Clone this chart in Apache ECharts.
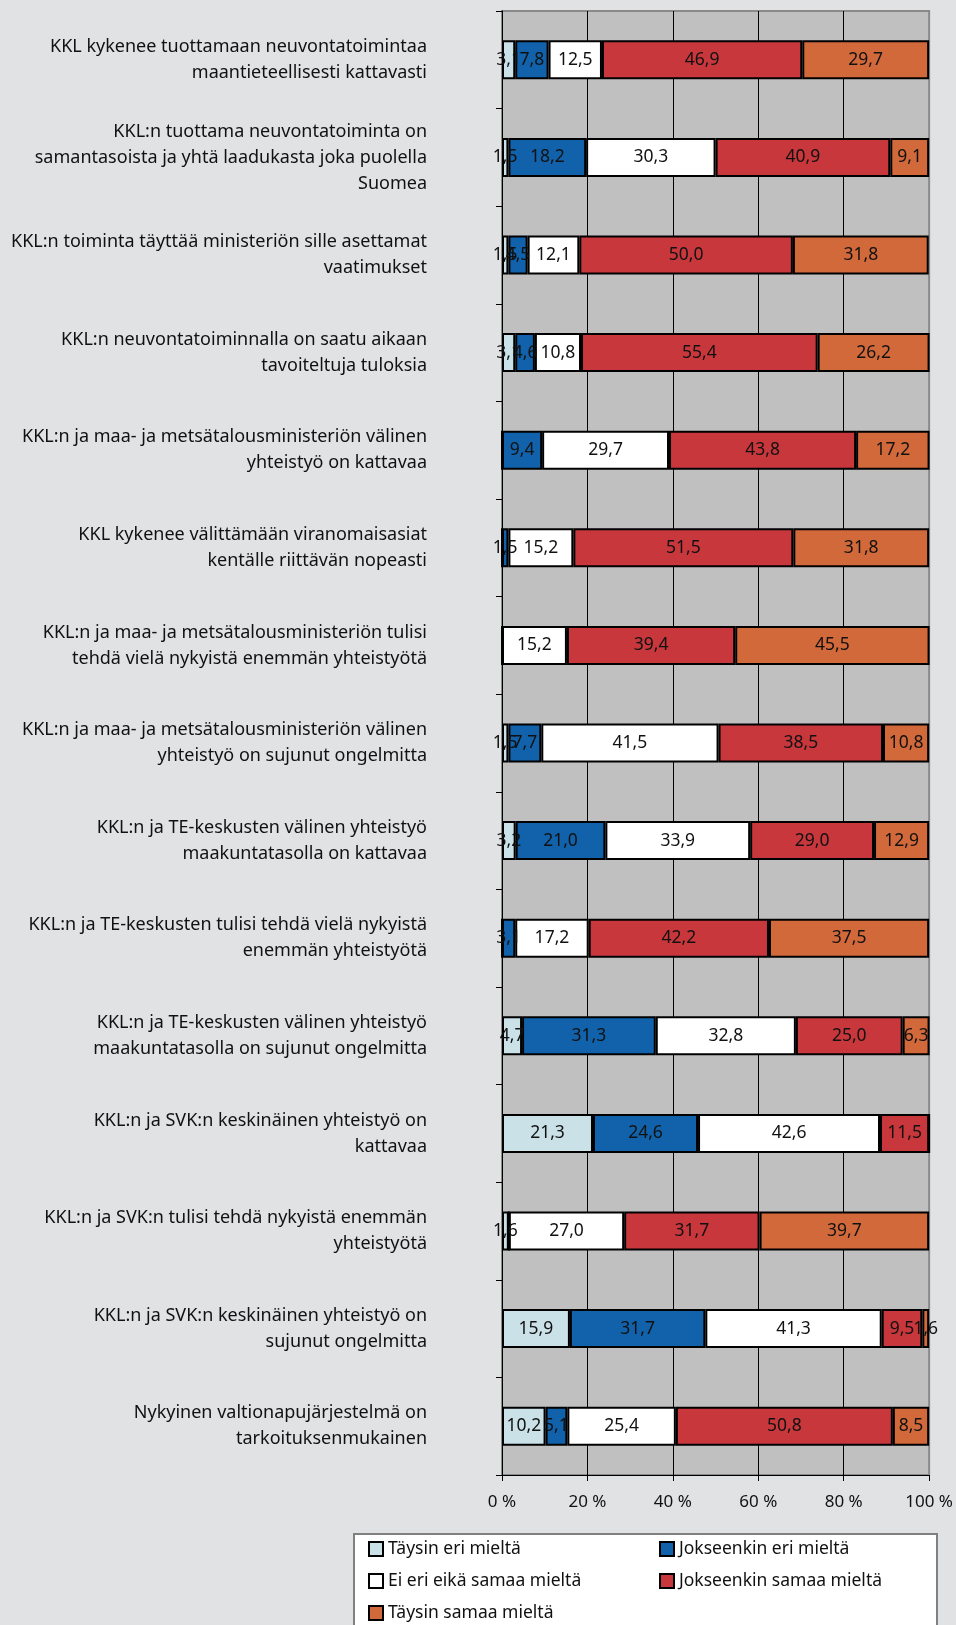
<!DOCTYPE html>
<html>
<head>
<meta charset="utf-8">
<title>KKL kysely</title>
<script src="https://cdn.jsdelivr.net/npm/echarts@6/dist/echarts.min.js"></script>
<style>
  html, body { margin: 0; padding: 0; background: #e1e2e4; }
  #chart { width: 956px; height: 1625px; }
</style>
</head>
<body>
<div id="chart"></div>
<script>
// väittämät (ylhäältä alas)
const categories = [
  'KKL kykenee tuottamaan neuvontatoimintaa\nmaantieteellisesti kattavasti',
  'KKL:n tuottama neuvontatoiminta on\nsamantasoista ja yhtä laadukasta joka puolella\nSuomea',
  'KKL:n toiminta täyttää ministeriön sille asettamat\nvaatimukset',
  'KKL:n neuvontatoiminnalla on saatu aikaan\ntavoiteltuja tuloksia',
  'KKL:n ja maa- ja metsätalousministeriön välinen\nyhteistyö on kattavaa',
  'KKL kykenee välittämään viranomaisasiat\nkentälle riittävän nopeasti',
  'KKL:n ja maa- ja metsätalousministeriön tulisi\ntehdä vielä nykyistä enemmän yhteistyötä',
  'KKL:n ja maa- ja metsätalousministeriön välinen\nyhteistyö on sujunut ongelmitta',
  'KKL:n ja TE-keskusten välinen yhteistyö\nmaakuntatasolla on kattavaa',
  'KKL:n ja TE-keskusten tulisi tehdä vielä nykyistä\nenemmän yhteistyötä',
  'KKL:n ja TE-keskusten välinen yhteistyö\nmaakuntatasolla on sujunut ongelmitta',
  'KKL:n ja SVK:n keskinäinen yhteistyö on\nkattavaa',
  'KKL:n ja SVK:n tulisi tehdä nykyistä enemmän\nyhteistyötä',
  'KKL:n ja SVK:n keskinäinen yhteistyö on\nsujunut ongelmitta',
  'Nykyinen valtionapujärjestelmä on\ntarkoituksenmukainen'
]

// vastausten osuudet (%)
const taysinEri       = [3.1, 1.5, 1.5, 3.1, 0, 0, 0, 1.5, 3.2, 0, 4.7, 21.3, 1.6, 15.9, 10.2]
const jokseenkinEri   = [7.8, 18.2, 4.5, 4.6, 9.4, 1.5, 0, 7.7, 21.0, 3.1, 31.3, 24.6, 0, 31.7, 5.1]
const eiEriEikaSamaa  = [12.5, 30.3, 12.1, 10.8, 29.7, 15.2, 15.2, 41.5, 33.9, 17.2, 32.8, 42.6, 27.0, 41.3, 25.4]
const jokseenkinSamaa = [46.9, 40.9, 50.0, 55.4, 43.8, 51.5, 39.4, 38.5, 29.0, 42.2, 25.0, 11.5, 31.7, 9.5, 50.8]
const taysinSamaa     = [29.7, 9.1, 31.8, 26.2, 17.2, 31.8, 45.5, 10.8, 12.9, 37.5, 6.3, 0, 39.7, 1.6, 8.5]

const seriesNames = [
  'Täysin eri mieltä',
  'Jokseenkin eri mieltä',
  'Ei eri eikä samaa mieltä',
  'Jokseenkin samaa mieltä',
  'Täysin samaa mieltä'
]
const seriesData = [taysinEri, jokseenkinEri, eiEriEikaSamaa, jokseenkinSamaa, taysinSamaa]
const colors = ['#c9e1e7', '#1162aa', '#ffffff', '#c8373c', '#d2693b']

const FONT = "'Noto Sans', 'Open Sans', sans-serif"

const chart = echarts.init(document.getElementById('chart'))

// pilkku desimaalierottimena, nollat piiloon
const fmt = p => (p.value > 0 ? p.value.toFixed(1).replace('.', ',') : '')

const series = seriesNames.map((name, i) => ({
  name: name,
  type: 'bar',
  stack: 'total',
  barWidth: '40%',
  data: seriesData[i],
  itemStyle: {
    color: colors[i],
    borderColor: '#000',
    borderWidth: 2
  },
  label: {
    show: true,
    position: 'inside',
    formatter: fmt,
    color: '#111',
    fontSize: 17.5,
    fontFamily: FONT
  },
  emphasis: { disabled: true }
}))

// legendan yhteiset asetukset
const legendBase = {
  orient: 'vertical',
  top: 1539,
  height: 100,
  padding: 0,
  itemWidth: 14,
  itemHeight: 14,
  itemGap: 12,
  icon: 'rect',
  selectedMode: false,
  textStyle: { fontSize: 17.5, lineHeight: 20, color: '#111', fontFamily: FONT }
}

const option = {
  backgroundColor: '#e1e2e4',
  animation: false,
  textStyle: { fontFamily: FONT },
  grid: {
    left: 502,
    right: 24,
    top: 11,
    bottom: 150,
    show: true,
    backgroundColor: '#c0c0c0',
    borderColor: '#8a8a8a',
    borderWidth: 2
  },
  xAxis: {
    type: 'value',
    min: 0,
    max: 100,
    interval: 20,
    axisLine: { show: true, lineStyle: { color: '#000', width: 1 } },
    axisTick: { show: true, length: 6, lineStyle: { color: '#000' } },
    axisLabel: {
      formatter: '{value} %',
      color: '#111',
      fontSize: 17,
      margin: 19,
      fontFamily: FONT
    },
    splitLine: {
      show: true,
      lineStyle: { color: ['#000', '#000', '#000', '#000', '#000', '#8a8a8a'], width: 1 }
    }
  },
  yAxis: {
    type: 'category',
    inverse: true,
    data: categories,
    axisLine: { show: true, lineStyle: { color: '#000', width: 1 } },
    axisTick: { show: true, length: 6, lineStyle: { color: '#000' } },
    axisLabel: {
      color: '#111',
      fontSize: 18,
      lineHeight: 26,
      margin: 75,
      align: 'right',
      fontFamily: FONT
    },
    splitLine: { show: false }
  },
  legend: [
    Object.assign({}, legendBase, {
      data: [seriesNames[0], seriesNames[2], seriesNames[4]],
      left: 368
    }),
    Object.assign({}, legendBase, {
      data: [seriesNames[1], seriesNames[3]],
      left: 659
    })
  ],
  // legendan valkoinen laatikko
  graphic: [
    {
      type: 'rect',
      z: -1,
      shape: { x: 354, y: 1534, width: 583, height: 110 },
      style: { fill: '#fff', stroke: '#808080', lineWidth: 2 }
    }
  ],
  series: series
}

chart.setOption(option)
</script>
</body>
</html>
